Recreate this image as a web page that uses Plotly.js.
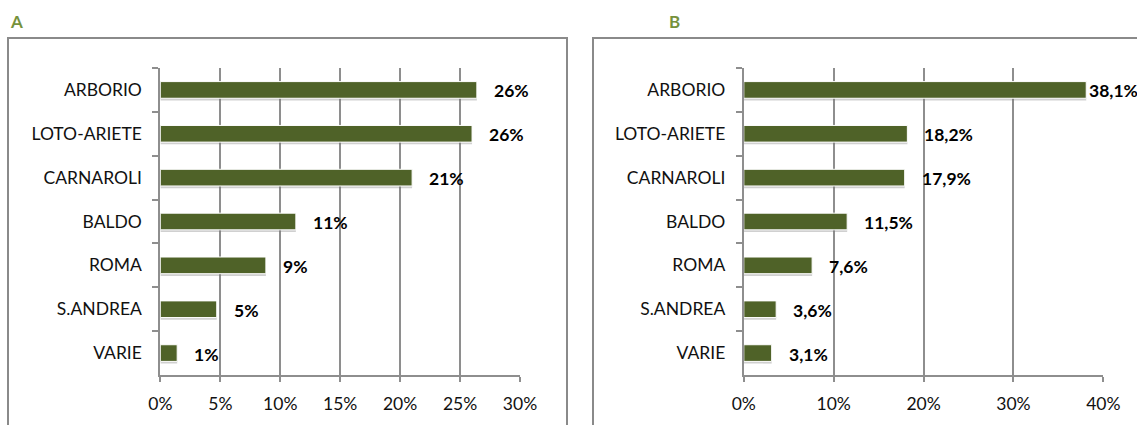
<!DOCTYPE html>
<html>
<head>
<meta charset="utf-8">
<script src="https://cdn.plot.ly/plotly-3.0.1.min.js"></script>
<style>html,body{margin:0;padding:0;background:#fff;}#chart{width:1137px;height:425px;}</style>
</head>
<body>
<div id="chart"></div>
<script>
const categories = ["ARBORIO", "LOTO-ARIETE", "CARNAROLI", "BALDO", "ROMA", "S.ANDREA", "VARIE"];
const valuesA = [26.4, 26.0, 21.0, 11.3, 8.8, 4.7, 1.4];
const valuesB = [38.1, 18.2, 17.9, 11.5, 7.6, 3.6, 3.1];
const ticksA = [0, 5, 10, 15, 20, 25, 30];
const ticksB = [0, 10, 20, 30, 40];
const labelsA = valuesA.map(v => Math.round(v) + "%");
const labelsB = valuesB.map(v => v.toFixed(1).replace(".", ",") + "%");

const W = 1137, H = 425;
const barColor = "#4f6228";
const gridColor = "#8e8e8e";
const font = "Lato, 'Open Sans', sans-serif";
const fsize = 17.5;

function barTrace(vals, xa, ya) {
  return {
    type: "bar", orientation: "h", x: vals, y: categories,
    xaxis: xa, yaxis: ya,
    marker: {color: barColor, line: {color: "#ffffff", width: 1}},
    hoverinfo: "none", showlegend: false
  };
}
function shadowTrace(vals, xa, ya) {
  return {
    type: "bar", orientation: "h", x: vals, y: categories,
    xaxis: xa, yaxis: ya, offset: -0.16, width: 0.40,
    marker: {color: "rgba(120,120,120,0.35)", line: {width: 0}},
    hoverinfo: "none", showlegend: false
  };
}

function xAxis(domain, ticks, anchor) {
  return {
    domain: domain, anchor: anchor,
    range: [ticks[0], ticks[ticks.length - 1]],
    tickvals: ticks, ticktext: ticks.map(t => t + "%"),
    showgrid: true, gridcolor: gridColor, gridwidth: 2,
    showline: true, linecolor: gridColor, linewidth: 2,
    ticks: "outside", ticklen: 5, tickcolor: gridColor, tickwidth: 2,
    ticklabelstandoff: 7,
    zeroline: false,
    tickfont: {family: font, size: fsize, color: "#111111"},
    fixedrange: true
  };
}
function yAxis(domain, anchor) {
  return {
    domain: domain, anchor: anchor,
    type: "category", autorange: "reversed",
    showgrid: false, showline: true, linecolor: gridColor, linewidth: 2,
    ticks: "outside", ticklen: 6, tickcolor: gridColor, tickwidth: 2,
    tickson: "boundaries", ticklabelstandoff: 13,
    zeroline: false,
    tickfont: {family: font, size: fsize, color: "#111111"},
    fixedrange: true
  };
}

const yDom = [1 - 375 / H, 1 - 68 / H];
const layout = {
  width: W, height: H,
  margin: {l: 0, r: 0, t: 0, b: 0},
  paper_bgcolor: "#ffffff", plot_bgcolor: "rgba(0,0,0,0)",
  barmode: "overlay", bargap: 0.62,
  xaxis: xAxis([160.4 / W, 520 / W], ticksA, "y"),
  yaxis: yAxis(yDom, "x"),
  xaxis2: xAxis([743.8 / W, 1103.3 / W], ticksB, "y2"),
  yaxis2: yAxis(yDom, "x2"),
  shapes: [
    {type: "rect", xref: "paper", yref: "paper", x0: 8 / W, x1: 567 / W, y0: -0.2, y1: 1 - 38 / H,
     line: {color: "#8a8a8a", width: 2}, fillcolor: "rgba(0,0,0,0)", layer: "below"},
    {type: "rect", xref: "paper", yref: "paper", x0: 593 / W, x1: 1.2, y0: -0.2, y1: 1 - 38 / H,
     line: {color: "#8a8a8a", width: 2}, fillcolor: "rgba(0,0,0,0)", layer: "below"}
  ],
  annotations: [
    {text: "<b>A</b>", xref: "paper", yref: "paper", x: 8 / W, y: 1 - 21 / H, xanchor: "left", yanchor: "middle",
     showarrow: false, font: {family: font, size: 17, color: "#76923c"}},
    {text: "<b>B</b>", xref: "paper", yref: "paper", x: 667 / W, y: 1 - 21 / H, xanchor: "left", yanchor: "middle",
     showarrow: false, font: {family: font, size: 17, color: "#76923c"}}
  ]
};

function addLabels(vals, labels, xa, ya, maxX) {
  vals.forEach((v, i) => {
    layout.annotations.push({
      text: "<b>" + labels[i] + "</b>", x: v, y: categories[i], xref: xa, yref: ya,
      xanchor: "left", yanchor: "middle", showarrow: false,
      xshift: (v > maxX * 0.9 ? 1 : 15), yshift: -1,
      font: {family: font, size: fsize, color: "#000000"}
    });
  });
}
addLabels(valuesA, labelsA, "x", "y", 30);
addLabels(valuesB, labelsB, "x2", "y2", 40);

const data = [
  shadowTrace(valuesA, "x", "y"), barTrace(valuesA, "x", "y"),
  shadowTrace(valuesB, "x2", "y2"), barTrace(valuesB, "x2", "y2")
];
Plotly.newPlot("chart", data, layout, {staticPlot: true, displayModeBar: false});
</script>
</body>
</html>
